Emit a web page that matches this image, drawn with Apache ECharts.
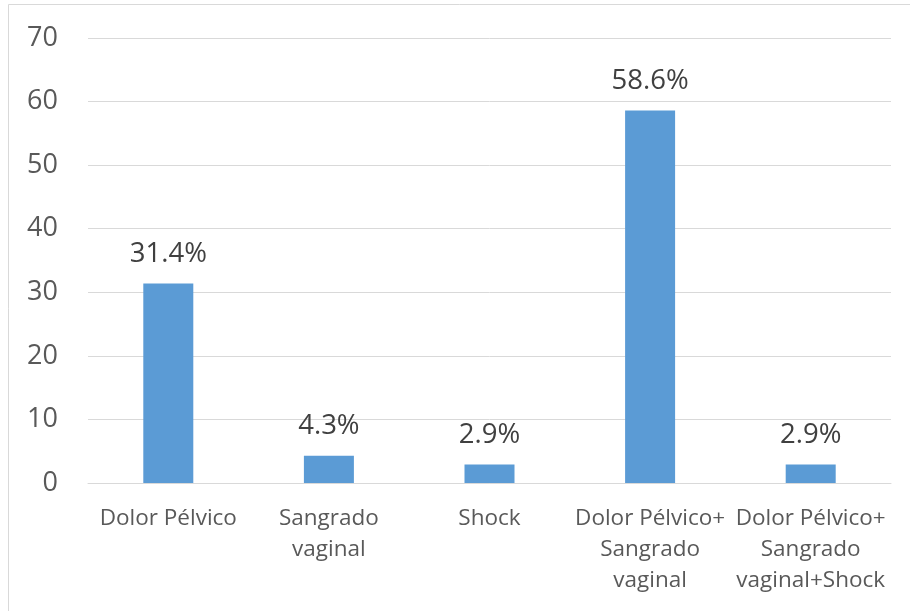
<!DOCTYPE html>
<html>
<head>
<meta charset="utf-8">
<script src="https://cdn.jsdelivr.net/npm/echarts@6/dist/echarts.min.js"></script>
<style>
html,body{margin:0;padding:0;background:#fff;}
#main{width:910px;height:611px;}
</style>
</head>
<body>
<div id="main"></div>
<script>
const categories = ['Dolor Pélvico', 'Sangrado\nvaginal', 'Shock', 'Dolor Pélvico+\nSangrado\nvaginal', 'Dolor Pélvico+\nSangrado\nvaginal+Shock'];
const values = [31.4, 4.3, 2.9, 58.6, 2.9];
const yMin = 0, yMax = 70, yInterval = 10;

const FONT = '"Open Sans", "Noto Sans", sans-serif';
const chart = echarts.init(document.getElementById('main'), null, {renderer: 'canvas'});
chart.setOption({
  animation: false,
  backgroundColor: '#ffffff',
  graphic: [{
    type: 'rect',
    shape: {x: 8.5, y: 4.5, width: 920, height: 640},
    style: {fill: 'none', stroke: '#d9d9d9', lineWidth: 1},
    silent: true
  }],
  grid: {left: 88, right: 19, top: 38, bottom: 128, containLabel: false},
  xAxis: {
    type: 'category',
    data: categories,
    axisLine: {show: true, lineStyle: {color: '#d9d9d9', width: 1}},
    axisTick: {show: false},
    axisLabel: {
      interval: 0,
      color: '#595959',
      fontFamily: FONT,
      fontSize: 22.5,
      lineHeight: 31,
      margin: 20
    }
  },
  yAxis: {
    type: 'value',
    min: yMin, max: yMax, interval: yInterval,
    axisLine: {show: false},
    axisTick: {show: false},
    splitLine: {lineStyle: {color: '#d9d9d9', width: 1}},
    axisLabel: {
      color: '#595959',
      fontFamily: FONT,
      fontSize: 27,
      margin: 30
    }
  },
  series: [{
    type: 'bar',
    data: values,
    barWidth: 50,
    itemStyle: {color: '#5b9bd5'},
    label: {
      show: true,
      position: 'top',
      distance: 15,
      color: '#404040',
      fontFamily: FONT,
      fontSize: 27.5,
      formatter: p => p.value.toFixed(1) + '%'
    }
  }]
});
</script>
</body>
</html>
